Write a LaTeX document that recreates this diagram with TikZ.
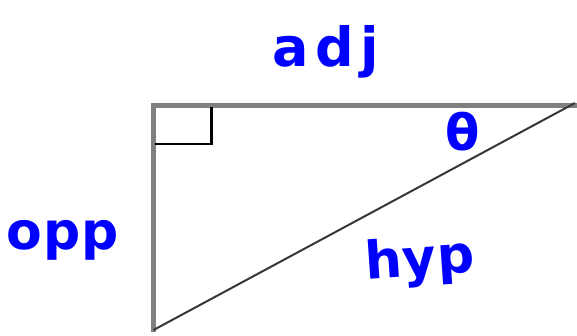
\documentclass[tikz,border=0pt]{standalone}
\usepackage{fontspec}
\setmainfont{DejaVu Sans}
\newfontfamily\handfont[LetterSpace=2]{DejaVu Sans}
\newfontfamily\handwidefont[LetterSpace=12]{DejaVu Sans}
\definecolor{penblue}{RGB}{0,0,255}
\definecolor{edgegray}{RGB}{128,128,128}
\definecolor{hypgray}{RGB}{55,55,55}
\tikzset{
  hand/.style={text=penblue, font=\handfont\bfseries\fontsize{52}{52}\selectfont, inner sep=0pt},
  leg/.style={draw=edgegray, line width=5pt},
  hypline/.style={draw=hypgray, line width=2pt},
  rightangle/.style={draw=black, line width=2.5pt}
}
\begin{document}
\begin{tikzpicture}[x=1pt,y=-1pt]
\useasboundingbox (0,0) rectangle (577,335);
\coordinate (B) at (577,105);
\coordinate (C) at (153.5,332);
\coordinate (Bh) at (575,103);
\coordinate (Ch) at (153.5,330);
\coordinate (S1) at (155,144);
\coordinate (S2) at (211.3,144);
\coordinate (S3) at (211.3,107);
\draw[leg] (150.5,105) -- (B);
\draw[leg] (153.5,102.5) -- (C);
\draw[hypline] (Bh) -- (Ch);
\draw[rightangle] (S1) -- (S2) -- (S3);
\node[hand, font=\handwidefont\bfseries\fontsize{54}{54}\selectfont] (adj) at (326,52) {adj};
\node[hand] (opp) at (63,240) {opp};
\node[hand, rotate=4] (hyp) at (420,262) {hyp};
\node[hand, font=\handfont\bfseries\fontsize{50}{50}\selectfont] (theta) at (463,132) {θ};
\end{tikzpicture}
\end{document}
